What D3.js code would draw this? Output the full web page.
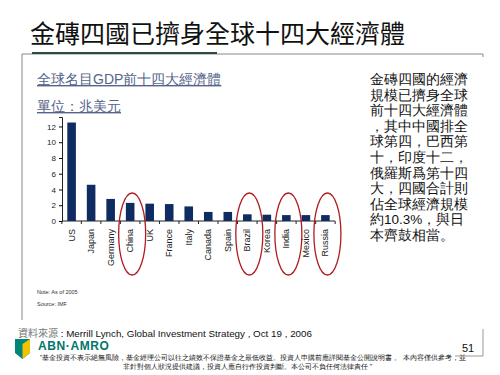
<!DOCTYPE html>
<html>
<head>
<meta charset="utf-8">
<script src="https://cdn.jsdelivr.net/npm/d3@7"></script>
<style>
  body { margin: 0; background: #fff; }
  svg text { font-family: "Liberation Sans", Arial, sans-serif; }
  .cjk { font-family: "Noto Sans CJK TC", "Noto Sans CJK SC", sans-serif; }
</style>
</head>
<body>
<div class="graph"></div>
<script>
let w = 500;
let h = 375;

// data (trillion USD, 2005)
let countries = ["US", "Japan", "Germany", "China", "UK", "France", "Italy",
  "Canada", "Spain", "Brazil", "Korea", "India", "Mexico", "Russia"];
let gdp = [12.5, 4.6, 2.8, 2.3, 2.2, 2.15, 1.85, 1.15, 1.15, 0.85, 0.8, 0.75, 0.75, 0.75];
let yTicks = [0, 2, 4, 6, 8, 10, 12];
let circled = ["China", "Brazil", "India", "Russia"];
let sideText = ["金磚四國的經濟", "規模已擠身全球", "前十四大經濟體", "，其中中國排全",
  "球第四，巴西第", "十，印度十二，", "俄羅斯爲第十四", "大，四國合計則",
  "佔全球經濟規模", "約10.3%，與日", "本齊鼓相當。"];
let disclaimer = ["\"基金投資不表示絕無風險，基金經理公司以往之績效不保證基金之最低收益。投資人申購前應詳閱基金公開說明書 。 本內容僅供參考，並",
  "非針對個人狀況提供建議，投資人應自行作投資判斷。本公司不負任何法律責任 \""];

let svg = d3.select(".graph").append("svg")
  .attr("width", w).attr("height", h);

// slide title + rules
svg.append("text").attr("class", "cjk")
  .attr("x", 30).attr("y", 43)
  .attr("font-size", 25).attr("fill", "#111")
  .text("金磚四國已擠身全球十四大經濟體");
svg.append("path")
  .attr("d", "M22,320 V54 H483 V57")
  .attr("fill", "none").attr("stroke", "#888").attr("stroke-width", 1);
svg.append("line")
  .attr("x1", 32).attr("x2", 217).attr("y1", 53).attr("y2", 53)
  .attr("stroke", "#2e4a48").attr("stroke-width", 2.2);

// chart headings
let head = svg.append("g").attr("class", "cjk")
  .attr("fill", "#55648a").attr("font-size", 14)
  .style("text-decoration", "underline");
head.append("text").attr("x", 37).attr("y", 84).text("全球名目GDP前十四大經濟體");
head.append("text").attr("x", 37).attr("y", 111).text("單位：兆美元");

let x = d3.scaleBand().domain(countries).range([63, 334]).paddingInner(0.56).paddingOuter(0.22);
let y = d3.scaleLinear().domain([0, 13.2]).range([221, 117]);

let yAxis = d3.axisLeft(y).tickValues(yTicks).tickSize(3).tickPadding(3);
let ga = svg.append("g").attr("transform", "translate(62,0)").call(yAxis);
ga.select(".domain").attr("stroke", "#222");
ga.selectAll("text")
  .style("font-family", "'Liberation Sans Narrow', 'Arial Narrow', sans-serif")
  .attr("font-size", 8).attr("fill", "#222");

// x axis: line + ticks at category boundaries
let xa = svg.append("g");
xa.append("line")
  .attr("x1", 62).attr("x2", 335).attr("y1", y(0)).attr("y2", y(0))
  .attr("stroke", "#222");
let bounds = countries.map((d) => x(d) - (x.step() - x.bandwidth()) / 2);
bounds.push(x(countries[countries.length - 1]) + x.bandwidth() + (x.step() - x.bandwidth()) / 2);
xa.selectAll("line.tk").data(bounds).enter().append("line")
  .attr("class", "tk")
  .attr("x1", (d) => d).attr("x2", (d) => d)
  .attr("y1", y(0)).attr("y2", y(0) + 3)
  .attr("stroke", "#222");

svg.selectAll("rect.bar").data(gdp).enter().append("rect")
  .attr("class", "bar")
  .attr("x", (d, i) => x(countries[i]))
  .attr("y", (d) => y(d))
  .attr("width", x.bandwidth())
  .attr("height", (d) => y(0) - y(d))
  .attr("fill", "#0e2c62");

svg.selectAll("text.cat").data(countries).enter().append("text")
  .attr("class", "cat")
  .attr("transform", (d) => "translate(" + (x(d) + x.bandwidth() / 2 + 3) + "," + (y(0) + 8) + ") rotate(-90)")
  .attr("text-anchor", "end")
  .attr("font-size", 9).attr("fill", "#222")
  .text((d) => d);

svg.selectAll("ellipse").data(circled).enter().append("ellipse")
  .attr("cx", (d) => x(d) + x.bandwidth() / 2 + 2)
  .attr("cy", 234)
  .attr("rx", 13.5).attr("ry", 41)
  .attr("fill", "none").attr("stroke", "#b01c22").attr("stroke-width", 1.3);

svg.append("text").attr("x", 37).attr("y", 294).attr("font-size", 5.5).attr("fill", "#333").text("Note: As of 2005");
svg.append("text").attr("x", 37).attr("y", 306).attr("font-size", 5.5).attr("fill", "#333").text("Source: IMF");

// side commentary
svg.append("g").attr("class", "cjk")
  .selectAll("text").data(sideText).enter().append("text")
  .attr("x", 370).attr("y", (d, i) => 84 + i * 15.6)
  .attr("font-size", 13.5).attr("fill", "#111")
  .text((d) => d);

// source line
let src = svg.append("text").attr("x", 18).attr("y", 337).attr("font-size", 10);
src.append("tspan").attr("class", "cjk").attr("fill", "#777").text("資料來源");
src.append("tspan").attr("fill", "#111").attr("font-size", 9.8).text(" : Merrill Lynch, Global Investment Strategy , Oct 19 , 2006");

// logo
let logo = svg.append("g").attr("transform", "translate(15,339)");
logo.append("path").attr("d", "M0,0 H15 V14 L7.5,20 L0,14 Z").attr("fill", "#00857a");
logo.append("path").attr("d", "M7.5,5 L15,0 V14 L7.5,20 Z").attr("fill", "#f2c200");
svg.append("text").attr("x", 38).attr("y", 350).attr("font-size", 12).attr("font-weight", "bold")
  .attr("fill", "#00766c").attr("letter-spacing", 0.6).text("ABN·AMRO");

svg.append("g").attr("class", "cjk")
  .selectAll("text").data(disclaimer).enter().append("text")
  .attr("x", (d, i) => (i == 0 ? 40 : 123))
  .attr("y", (d, i) => 359.5 + i * 9)
  .attr("font-size", 6.6).attr("fill", "#111")
  .text((d) => d);

svg.append("text").attr("x", 462).attr("y", 352).attr("font-size", 11).attr("fill", "#111").text("51");
svg.append("path").attr("d", "M455,356 H483 V329").attr("fill", "none").attr("stroke", "#999");
</script>
</body>
</html>
